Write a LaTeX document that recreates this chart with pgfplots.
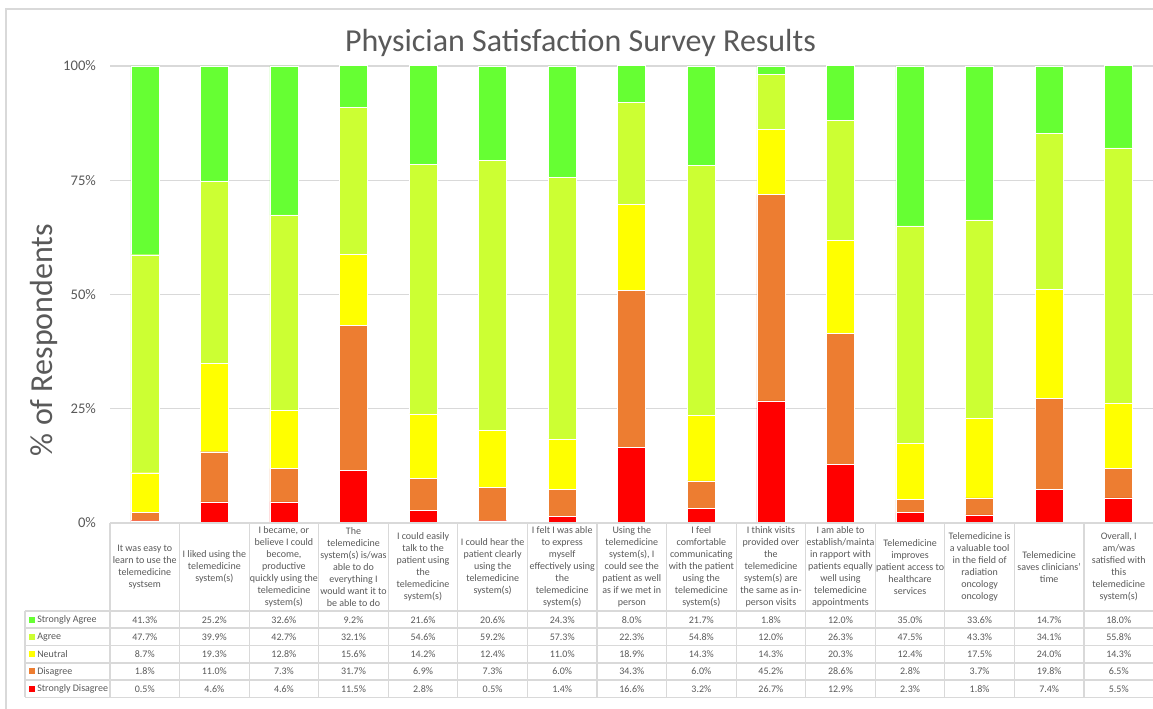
\documentclass[border=0pt]{standalone}
\usepackage{pgfplots}
\pgfplotsset{compat=1.18}
\usepackage{pgfplotstable}
\usepackage{fontspec}
\setmainfont{Carlito}
\definecolor{csa}{HTML}{66FF33}
\definecolor{cag}{HTML}{CCFF33}
\definecolor{cne}{HTML}{FFFF00}
\definecolor{cdi}{HTML}{ED7D31}
\definecolor{csd}{HTML}{FF0000}
\definecolor{txt}{HTML}{595959}
\definecolor{grd}{HTML}{D9D9D9}

\pgfplotstableread{
x sa a n d sd
0 41.3 47.7 8.7 1.8 0.5
1 25.2 39.9 19.3 11.0 4.6
2 32.6 42.7 12.8 7.3 4.6
3 9.2 32.1 15.6 31.7 11.5
4 21.6 54.6 14.2 6.9 2.8
5 20.6 59.2 12.4 7.3 0.5
6 24.3 57.3 11.0 6.0 1.4
7 8.0 22.3 18.9 34.3 16.6
8 21.7 54.8 14.3 6.0 3.2
9 1.8 12.0 14.3 45.2 26.7
10 12.0 26.3 20.3 28.6 12.9
11 35.0 47.5 12.4 2.8 2.3
12 33.6 43.3 17.5 3.7 1.8
13 14.7 34.1 24.0 19.8 7.4
14 18.0 55.8 14.3 6.5 5.5
}\data

\begin{document}
\begin{tikzpicture}
\path[use as bounding box] (0,0) rectangle (864.75pt,531.75pt);
\begin{axis}[
  at={(82.5pt,139.5pt)}, anchor=south west,
  width=782.5pt, height=342.75pt, scale only axis,
  ybar stacked, bar width=21pt,
  xmin=-0.5, xmax=14.5, ymin=0, ymax=100,
  ytick={0,25,50,75,100},
  yticklabels={0\%,25\%,50\%,75\%,100\%},
  xtick=\empty,
  axis line style={draw=none},
  ymajorgrids, grid style={grd, line width=0.8pt},
  major tick length=0pt,
  yticklabel style={font=\fontsize{11}{13}\selectfont, text=txt, xshift=-7pt},
  clip=false,
]
\addplot[fill=csd, draw=white, line width=0.3pt] table[x=x,y=sd]{\data};
\addplot[fill=cdi, draw=white, line width=0.3pt] table[x=x,y=d]{\data};
\addplot[fill=cne, draw=white, line width=0.3pt] table[x=x,y=n]{\data};
\addplot[fill=cag, draw=white, line width=0.3pt] table[x=x,y=a]{\data};
\addplot[fill=csa, draw=white, line width=0.3pt] table[x=x,y=sa]{\data};
\end{axis}
\begin{scope}[x=0.75pt,y=-0.75pt,yshift=531.75pt]
  % outer border
  \draw[grd, line width=0.8pt] (6,712) -- (6,9) -- (1160,9);
  % title and y label
  \node[anchor=base, text=txt, font=\fontsize{24}{28}\selectfont] at (580.5,52) {Physician Satisfaction Survey Results};
  \node[rotate=90, text=txt, font=\fontsize{24}{28}\selectfont] at (44,340) {\% of Respondents};
  % table lines
  \foreach \py in {611,628,645.5,663,680,697.5} \draw[grd, line width=0.8pt] (25,\py) -- (1160,\py);
  \draw[grd, line width=0.8pt] (110,523) -- (1160,523);
  \draw[grd, line width=0.8pt] (25,611) -- (25,697.5);
  \foreach \k in {0,...,15} \draw[grd, line width=0.8pt] ({110+69.57*\k},523) -- ({110+69.57*\k},697.5);
  % header texts
  \foreach \t [count=\i from 0] in {
    {It was easy to\\learn to use the\\telemedicine\\systsem},
    {I liked using the\\telemedicine\\system(s)},
    {I became, or\\believe I could\\become,\\productive\\quickly using the\\telemedicine\\system(s)},
    {The\\telemedicine\\system(s) is/was\\able to do\\everything I\\would want it to\\be able to do},
    {I could easily\\talk to the\\patient using\\the\\telemedicine\\system(s)},
    {I could hear the\\patient clearly\\using the\\telemedicine\\system(s)},
    {I felt I was able\\to express\\myself\\effectively using\\the\\telemedicine\\system(s)},
    {Using the\\telemedicine\\system(s), I\\could see the\\patient as well\\as if we met in\\person},
    {I feel\\comfortable\\communicating\\with the patient\\using the\\telemedicine\\system(s)},
    {I think visits\\provided over\\the\\telemedicine\\system(s) are\\the same as in-\\person visits},
    {I am able to\\establish/mainta\\in rapport with\\patients equally\\well using\\telemedicine\\appointments},
    {Telemedicine\\improves\\patient access to\\healthcare\\services},
    {Telemedicine is\\a valuable tool\\in the field of\\radiation\\oncology\\oncology},
    {Telemedicine\\saves clinicians'\\time},
    {Overall, I\\am/was\\satisfied with\\this\\telemedicine\\system(s)}}
  {
    \node[align=center, text=txt, inner sep=0pt, font=\fontsize{7.5}{9}\selectfont] at ({110+69.57*(\i+0.5)},567) {\t};
  }
  % legend column
  \foreach \c/\lab/\py in {csa/Strongly Agree/620, cag/Agree/637, cne/Neutral/654, cdi/Disagree/671.5, csd/Strongly Disagree/689}
  {
    \fill[\c] (29,\py-3) rectangle ++(6,6);
    \node[anchor=west, text=txt, inner sep=0pt, font=\fontsize{7.5}{9}\selectfont] at (37,\py) {\lab};
  }
  % values
  \foreach \col/\py in {sa/620, a/637, n/654, d/671.5, sd/689}
  {
    \foreach \i in {0,...,14}
    {
      \pgfplotstablegetelem{\i}{\col}\of\data
      \node[text=txt, inner sep=0pt, font=\fontsize{7.5}{9}\selectfont] at ({110+69.57*(\i+0.5)},\py) {\pgfplotsretval\%};
    }
  }
\end{scope}
\end{tikzpicture}
\end{document}
